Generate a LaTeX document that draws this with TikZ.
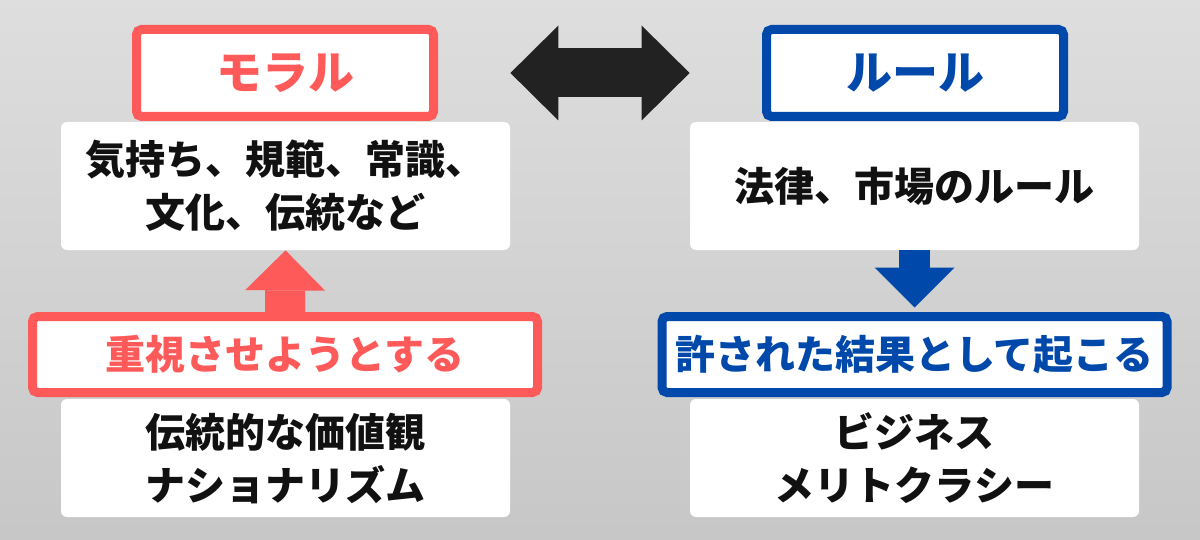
\documentclass[tikz,border=0pt]{standalone}
\usepackage{fontspec}
\usepackage{tikz}
\usetikzlibrary{arrows.meta}
\newfontfamily\jpfont{Noto Sans CJK JP}
\definecolor{moralred}{HTML}{FF5A5A}
\definecolor{ruleblue}{HTML}{0049AA}
\definecolor{arrowblack}{HTML}{222222}
\definecolor{textblack}{HTML}{111111}
\tikzstyle{titlebox}=[rounded corners=2.5pt,line width=4.5pt,fill=white,minimum width=148.5pt,minimum height=43.5pt,inner sep=0pt,font=\jpfont\bfseries\fontsize{23pt}{26pt}\selectfont]
\tikzstyle{goalbox}=[titlebox,minimum width=252.5pt,minimum height=38pt,font=\jpfont\bfseries\fontsize{20pt}{26pt}\selectfont]
\tikzstyle{bodybox}=[rounded corners=3pt,fill=white,minimum width=224.5pt,inner sep=0pt,align=center,text=textblack,font=\jpfont\bfseries\fontsize{20pt}{26.5pt}\selectfont]

\begin{document}
\begin{tikzpicture}[x=0.5pt,y=-0.5pt]
    \useasboundingbox (0,0) rectangle (1200,540);
    \fill[top color=black!13,bottom color=black!22] (0,0) rectangle (1200,540);
    % left side
    \node[titlebox,draw=moralred,text=moralred] (moraltitle) at (285,73) {モラル};
    \node[bodybox,minimum height=64pt] (moralbody) at (285.5,186) {気持ち、規範、常識、\\文化、伝統など};
    \node[goalbox,draw=moralred,text=moralred] (moralgoal) at (285,354.5) {重視させようとする};
    \node[bodybox,minimum height=59pt] (moralex) at (285.5,458) {伝統的な価値観\\ナショナリズム};
    % right side
    \node[titlebox,draw=ruleblue,text=ruleblue] (ruletitle) at (915,73) {ルール};
    \node[bodybox,minimum height=64pt] (rulebody) at (914.5,186) {法律、市場のルール};
    \node[goalbox,draw=ruleblue,text=ruleblue] (rulegoal) at (914.5,354.5) {許された結果として起こる};
    \node[bodybox,minimum height=59pt] (ruleex) at (914.5,458) {ビジネス\\メリトクラシー};

    \draw[arrowblack,line width=24.5pt,{Triangle[length=24pt,width=47.5pt,line width=0pt]}-{Triangle[length=24pt,width=47.5pt,line width=0pt]}]
        (moraltitle.east -| moralbody.east) -- (ruletitle.west -| rulebody.west);
    \draw[moralred,line width=20pt,-{Triangle[length=20pt,width=40pt,line width=0pt]}] (moralgoal.north) -- (moralbody.south);
    \draw[ruleblue,line width=15.5pt,-{Triangle[length=20pt,width=40pt,line width=0pt]}] (rulebody.south) -- ([yshift=2.25pt]rulegoal.north);
\end{tikzpicture}
\end{document}
